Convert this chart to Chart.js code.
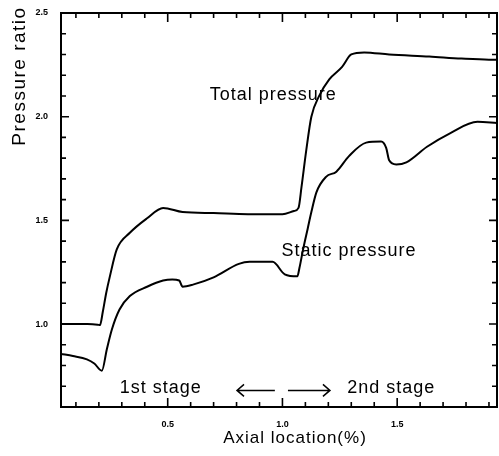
<!DOCTYPE html>
<html>
<head>
<meta charset="utf-8">
<script src="https://cdn.jsdelivr.net/npm/chart.js@4/dist/chart.umd.min.js"></script>
<style>
  html, body { margin: 0; padding: 0; background: #fff; }
  #wrap { width: 499px; height: 456px; }
</style>
</head>
<body>
<div id="wrap"><canvas id="myChart" width="499" height="456"></canvas></div>
<script>
// axial location (x) and pressure ratio (y)
const totalX = [0.035, 0.10, 0.15, 0.195, 0.205, 0.217, 0.232, 0.248, 0.278, 0.335, 0.41, 0.48, 0.565, 0.70, 0.85, 1.00, 1.05, 1.07, 1.083, 1.104, 1.126, 1.16, 1.204, 1.26, 1.30, 1.356, 1.465, 1.64, 1.78, 1.90, 1.935];
const totalY = [1.0, 1.0, 1.0, 0.997, 0.995, 1.058, 1.15, 1.23, 1.36, 1.44, 1.51, 1.56, 1.54, 1.535, 1.53, 1.53, 1.545, 1.56, 1.66, 1.84, 2.0, 2.10, 2.18, 2.24, 2.30, 2.31, 2.30, 2.29, 2.28, 2.275, 2.275];

const staticX = [0.035, 0.087, 0.148, 0.18, 0.213, 0.235, 0.257, 0.29, 0.335, 0.41, 0.48, 0.52, 0.55, 0.565, 0.61, 0.70, 0.81, 0.857, 0.957, 1.01, 1.065, 1.074, 1.09, 1.11, 1.126, 1.148, 1.19, 1.235, 1.29, 1.365, 1.43, 1.452, 1.465, 1.496, 1.54, 1.63, 1.73, 1.85, 1.935];
const staticY = [0.856, 0.846, 0.83, 0.81, 0.775, 0.88, 0.975, 1.07, 1.135, 1.18, 1.21, 1.215, 1.21, 1.18, 1.19, 1.225, 1.29, 1.30, 1.30, 1.24, 1.23, 1.27, 1.36, 1.46, 1.54, 1.635, 1.71, 1.735, 1.81, 1.875, 1.88, 1.85, 1.79, 1.77, 1.78, 1.855, 1.92, 1.975, 1.97];

const xTicks = [0.1, 0.2, 0.3, 0.4, 0.5, 0.6, 0.7, 0.8, 0.9, 1.0, 1.1, 1.2, 1.3, 1.4, 1.5, 1.6, 1.7, 1.8, 1.9];
const xLabels = ["0.5", "1.0", "1.5"];
const yTicks = [0.7, 0.8, 0.9, 1.0, 1.1, 1.2, 1.3, 1.4, 1.5, 1.6, 1.7, 1.8, 1.9, 2.0, 2.1, 2.2, 2.3, 2.4, 2.5];
const yLabels = ["1.0", "1.5", "2.0", "2.5"];

// text notes placed in data coordinates
const notes = [
  { text: "Total pressure", x: 0.96, y: 2.105 },
  { text: "Static pressure", x: 1.29, y: 1.35 },
  { text: "1st stage", x: 0.47, y: 0.69 },
  { text: "2nd stage", x: 1.474, y: 0.69 },
];
// stage arrows: [from, to] along x
const arrows = [[0.967, 0.802], [1.024, 1.207]];

const toPts = (xs, ys) => xs.map((x, i) => ({ x: x, y: ys[i] }));

const frame = {
  id: "frame",
  afterDraw(chart) {
    const ctx = chart.ctx;
    const a = chart.chartArea;
    const xs = chart.scales.x;
    const ys = chart.scales.y;
    ctx.save();
    ctx.strokeStyle = "#000";
    ctx.lineWidth = 2;
    ctx.strokeRect(a.left, a.top, a.right - a.left, a.bottom - a.top);
    ctx.lineWidth = 1.6;
    ctx.beginPath();
    xTicks.forEach((v) => {
      const px = xs.getPixelForValue(v);
      const len = xLabels.includes(v.toFixed(1)) ? 9 : 5;
      ctx.moveTo(px, a.bottom);
      ctx.lineTo(px, a.bottom - len);
      ctx.moveTo(px, a.top);
      ctx.lineTo(px, a.top + len);
    });
    yTicks.forEach((v) => {
      const py = ys.getPixelForValue(v);
      const len = yLabels.includes(v.toFixed(1)) ? 8 : 5;
      ctx.moveTo(a.left, py);
      ctx.lineTo(a.left + len, py);
      ctx.moveTo(a.right, py);
      ctx.lineTo(a.right - len, py);
    });
    ctx.stroke();

    ctx.fillStyle = "#000";
    ctx.textAlign = "center";
    ctx.textBaseline = "middle";
    ctx.font = "18px 'Liberation Sans', Arial, sans-serif";
    ctx.letterSpacing = "1px";
    notes.forEach((n) => {
      ctx.fillText(n.text, xs.getPixelForValue(n.x), ys.getPixelForValue(n.y));
    });

    const ay = ys.getPixelForValue(0.68);
    ctx.lineWidth = 1.5;
    arrows.forEach(([from, to]) => {
      const x1 = xs.getPixelForValue(from);
      const x2 = xs.getPixelForValue(to);
      const d = x2 > x1 ? -1 : 1;
      ctx.beginPath();
      ctx.moveTo(x1, ay);
      ctx.lineTo(x2, ay);
      ctx.moveTo(x2 + d * 7, ay - 6);
      ctx.lineTo(x2, ay);
      ctx.lineTo(x2 + d * 7, ay + 6);
      ctx.stroke();
    });

    // axis titles
    ctx.font = "17px 'Liberation Sans', Arial, sans-serif";
    ctx.fillText("Axial location(%)", 295, 438);
    ctx.translate(20, 76);
    ctx.rotate(-Math.PI / 2);
    ctx.font = "19px 'Liberation Sans', Arial, sans-serif";
    ctx.letterSpacing = "1.5px";
    ctx.fillText("Pressure ratio", 0, 0);
    ctx.restore();
  },
};

var ctx = document.getElementById("myChart").getContext("2d");
var myChart = new Chart(ctx, {
  type: "line",
  data: {
    datasets: [
      {
        label: "Total pressure",
        data: toPts(totalX, totalY),
        borderColor: "#000",
        borderWidth: 2,
        pointRadius: 0,
        cubicInterpolationMode: "monotone",
        fill: false,
      },
      {
        label: "Static pressure",
        data: toPts(staticX, staticY),
        borderColor: "#000",
        borderWidth: 2,
        pointRadius: 0,
        cubicInterpolationMode: "monotone",
        fill: false,
      },
    ],
  },
  options: {
    responsive: false,
    animation: false,
    layout: { padding: { top: 13, right: 2, left: 0, bottom: 0 } },
    scales: {
      x: {
        type: "linear",
        min: 0.035,
        max: 1.935,
        grid: { display: false },
        border: { display: false },
        afterBuildTicks: (s) => { s.ticks = xTicks.map((v) => ({ value: v })); },
        afterFit: (s) => {
          s.height = 49;
          s.paddingLeft = 0;
          s.paddingRight = 0;
        },
        ticks: {
          autoSkip: false,
          maxRotation: 0,
          padding: 4,
          color: "#000",
          font: { family: "'Liberation Sans', Arial", size: 9, weight: "bold" },
          callback: (v) => (xLabels.includes(Number(v).toFixed(1)) ? Number(v).toFixed(1) : ""),
        },
      },
      y: {
        type: "linear",
        min: 0.6,
        max: 2.5,
        grid: { display: false },
        border: { display: false },
        afterBuildTicks: (s) => { s.ticks = yTicks.map((v) => ({ value: v })); },
        afterFit: (s) => {
          s.width = 61;
          s.paddingTop = 0;
          s.paddingBottom = 0;
        },
        ticks: {
          autoSkip: false,
          padding: 5,
          color: "#000",
          font: { family: "'Liberation Sans', Arial", size: 9, weight: "bold" },
          callback: (v) => (yLabels.includes(Number(v).toFixed(1)) ? Number(v).toFixed(1) : ""),
        },
      },
    },
    plugins: {
      legend: { display: false },
      tooltip: { enabled: false },
    },
  },
  plugins: [frame],
});
</script>
</body>
</html>
